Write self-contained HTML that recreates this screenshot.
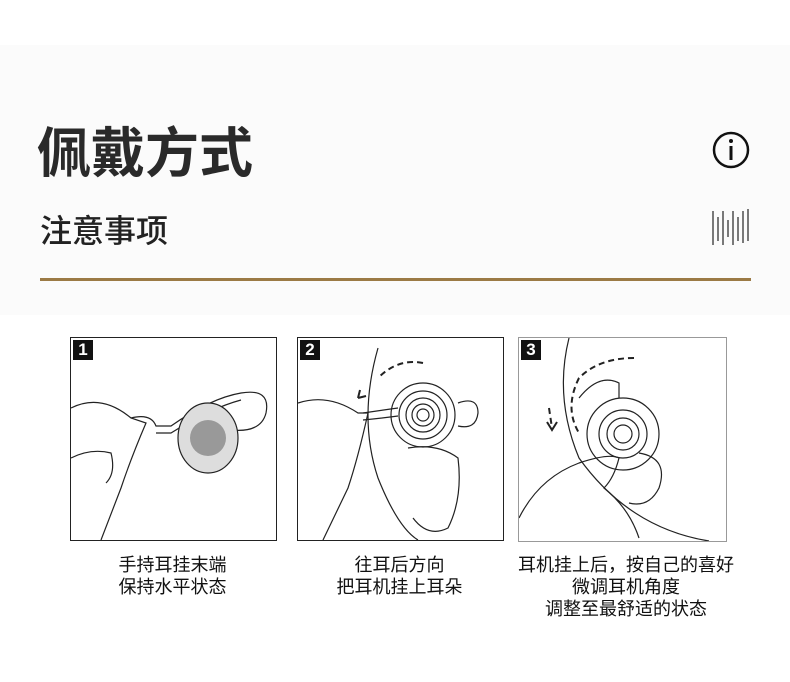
<!DOCTYPE html>
<html><head><meta charset="utf-8"><style>
html,body{margin:0;padding:0}
body{width:790px;height:682px;background:#fff;position:relative;overflow:hidden;font-family:"Liberation Sans","Noto Sans CJK SC",sans-serif;color:#222}
.band{position:absolute;left:0;top:45px;width:790px;height:270px;background:#fbfbfb}
.t1{position:absolute;left:37px;top:119px;font-size:54px;font-weight:bold;color:#2a2a2a;line-height:70px}
.t2{position:absolute;left:40px;top:210px;font-size:32px;line-height:42px;color:#222;font-weight:500}
.line{position:absolute;left:40px;top:278px;width:711px;height:3px;background:#9b7a45}
.panel{position:absolute;border:1px solid #222;background:#fff;overflow:hidden}
.num{position:absolute;left:2px;top:2px;width:20px;height:20px;background:#111;color:#fff;font-size:17px;line-height:20px;text-align:center;font-weight:bold}
.cap{position:absolute;text-align:center;font-size:18px;line-height:22px;color:#111}
</style></head><body>
<div class="band"></div>
<div class="t1">佩戴方式</div>
<div class="t2">注意事项</div>
<svg style="position:absolute;left:700px;top:125px" width="60" height="125">
<circle cx="31" cy="25" r="17" fill="none" stroke="#111" stroke-width="2.5"/>
<circle cx="31" cy="16" r="2" fill="#111"/><rect x="29.5" y="21" width="3" height="14" fill="#111"/>
<g stroke="#333" stroke-width="1.3">
<line x1="13" y1="86" x2="13" y2="120"/><line x1="18" y1="92" x2="18" y2="116"/><line x1="23" y1="86" x2="23" y2="120"/><line x1="28" y1="95" x2="28" y2="112"/><line x1="33" y1="86" x2="33" y2="120"/><line x1="38" y1="92" x2="38" y2="116"/><line x1="43" y1="86" x2="43" y2="118"/><line x1="48" y1="84" x2="48" y2="116"/></g>
</svg>
<div class="line"></div>

<div class="panel" style="left:70px;top:337px;width:205px;height:202px">
<div class="num">1</div>
<svg width="205" height="202" fill="none" stroke="#222" stroke-width="1.2">
<path d="M0 70 Q30 55 60 80 L75 85 Q60 120 50 150 L30 202"/>
<path d="M0 120 Q20 110 40 115 Q45 135 35 145"/>
<path d="M60 80 Q80 75 85 88 L100 88 Q140 60 170 55 Q200 50 195 75 Q190 95 160 92"/>
<path d="M85 95 L100 95 Q140 70 170 62"/>
<ellipse cx="137" cy="100" rx="30" ry="35" fill="#ddd"/>
<circle cx="137" cy="100" r="18" fill="#999" stroke="none"/>
</svg></div>

<div class="panel" style="left:297px;top:337px;width:205px;height:202px">
<div class="num">2</div>
<svg width="205" height="202" fill="none" stroke="#222" stroke-width="1.2">
<path d="M80 10 Q60 80 80 140 Q100 190 120 202"/>
<path d="M110 110 Q140 105 160 120 Q165 160 150 190 Q130 200 115 180"/>
<path d="M0 65 Q30 55 60 75 L70 75 Q60 120 50 150 L25 202"/>
<path d="M65 75 Q85 72 100 70 M65 82 Q85 80 100 78"/>
<path d="M160 65 Q180 58 180 75 Q178 92 160 88"/>
<path d="M125 25 Q100 20 80 40" stroke-dasharray="6 4" stroke-width="2"/>
<path d="M60 60 L62 52 M60 60 L68 58" stroke-width="2"/>
<circle cx="125" cy="77" r="32"/><circle cx="125" cy="77" r="24"/><circle cx="125" cy="77" r="17"/><circle cx="125" cy="77" r="11"/><circle cx="125" cy="77" r="6"/>
</svg></div>

<div class="panel" style="left:518px;top:337px;width:207px;height:203px;border-color:#999">
<div class="num">3</div>
<svg width="207" height="203" fill="none" stroke="#222" stroke-width="1.2">
<path d="M50 0 Q35 60 60 120 Q110 190 190 203"/>
<path d="M115 20 Q80 20 60 40 Q45 70 60 95" stroke-dasharray="6 4" stroke-width="2"/>
<path d="M30 70 L33 90" stroke-dasharray="6 4" stroke-width="2"/>
<path d="M28 84 L33 92 L38 84" stroke-width="2"/>
<path d="M60 60 Q80 35 100 45 L100 60"/>
<circle cx="104" cy="96" r="36"/><circle cx="104" cy="96" r="24"/><circle cx="104" cy="96" r="16"/><circle cx="104" cy="96" r="9"/>
<path d="M0 180 Q20 140 60 125 Q90 115 100 120 Q95 140 85 150 Q110 170 120 200"/>
<path d="M120 115 Q150 120 140 150 Q130 170 110 165"/>
</svg></div>

<div class="cap" style="left:70px;top:554px;width:205px">手持耳挂末端<br>保持水平状态</div>
<div class="cap" style="left:297px;top:554px;width:205px">往耳后方向<br>把耳机挂上耳朵</div>
<div class="cap" style="left:500px;top:554px;width:252px">耳机挂上后，按自己的喜好<br>微调耳机角度<br>调整至最舒适的状态</div>
</body></html>
